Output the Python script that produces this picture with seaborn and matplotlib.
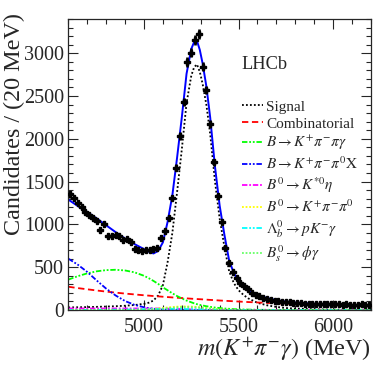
import numpy as np
import pandas as pd
import matplotlib
matplotlib.use('Agg')
import matplotlib.pyplot as plt
import seaborn as sns
from matplotlib.ticker import MultipleLocator

# data points (20 MeV bins)
bin_centres = list(range(4610, 6200, 20))
counts = [1350, 1310, 1245, 1205, 1150, 1115, 1080, 1045, 940, 1010,
          870, 860, 880, 860, 815, 830, 790, 711, 696, 690,
          703, 705, 711, 723, 844, 922, 1078, 1309, 1660, 2031,
          2430, 2898, 3008, 3152, 3222, 2840, 2570, 2168, 1726, 1328,
          1030, 723, 547, 449, 370, 320, 281, 240, 200, 170,
          158, 140, 128, 118, 105, 102, 95, 98, 88, 82,
          78, 80, 74, 72, 75, 69, 72, 66, 70, 67,
          71, 65, 63, 67, 61, 64, 58, 65, 61, 64]

# fit curves
m_fit = [4600, 4650, 4700, 4750, 4800, 4850, 4900, 4950, 5000, 5025,
         5050, 5075, 5100, 5125, 5150, 5175, 5200, 5225, 5250, 5265,
         5280, 5295, 5310, 5330, 5350, 5375, 5400, 5425, 5450, 5475,
         5500, 5525, 5550, 5600, 5650, 5700, 5750, 5800, 5900, 6000,
         6100, 6200]
total = [1290, 1215, 1145, 1070, 990, 910, 835, 770, 712, 682,
         660, 690, 790, 1030, 1340, 1780, 2250, 2760, 3050, 3130,
         3145, 3040, 2880, 2610, 2250, 1680, 1220, 880, 580, 430,
         340, 280, 235, 175, 140, 115, 98, 87, 72, 62,
         56, 51]
signal = [30, 32, 34, 37, 40, 44, 50, 58, 72, 85,
          110, 170, 290, 560, 900, 1377, 1877, 2417, 2737, 2836,
          2870, 2783, 2641, 2395, 2056, 1509, 1068, 742, 454, 314,
          231, 178, 137, 84, 55, 36, 23, 17, 9, 5,
          3, 2]
combinatorial = [272, 256, 242, 228, 215, 203, 192, 182, 172, 168,
                 163, 159, 155, 151, 147, 143, 140, 136, 132, 130,
                 128, 126, 124, 121, 118, 115, 111, 108, 105, 102,
                 99, 96, 93, 88, 83, 78, 74, 70, 63, 57,
                 52, 48]
kpipigamma = [355, 395, 428, 452, 466, 470, 462, 440, 400, 372,
              340, 305, 265, 230, 195, 163, 135, 110, 90, 78,
              68, 60, 53, 44, 37, 29, 23, 18, 14, 10,
              8, 6, 5, 3, 2, 1, 1, 0, 0, 0,
              0, 0]
kpipi0x = [600, 530, 445, 345, 250, 170, 105, 60, 32, 22,
           15, 9, 6, 4, 2, 1, 0, 0, 0, 0,
           0, 0, 0, 0, 0, 0, 0, 0, 0, 0,
           0, 0, 0, 0, 0, 0, 0, 0, 0, 0,
           0, 0]
kstareta = [18, 18, 18, 18, 18, 18, 18, 18, 18, 18,
            18, 18, 17, 16, 15, 13, 11, 9, 7, 6,
            5, 4, 3, 2, 2, 1, 1, 0, 0, 0,
            0, 0, 0, 0, 0, 0, 0, 0, 0, 0,
            0, 0]
kpipi0 = [0, 0, 0, 0, 0, 1, 1, 2, 6, 9,
          13, 18, 24, 30, 35, 39, 41, 42, 40, 38,
          35, 32, 28, 23, 18, 13, 9, 6, 4, 2,
          1, 0, 0, 0, 0, 0, 0, 0, 0, 0,
          0, 0]
lambdab = [0, 1, 1, 2, 3, 4, 5, 7, 9, 10,
           11, 12, 12, 13, 13, 13, 12, 11, 10, 9,
           8, 7, 6, 5, 4, 3, 2, 2, 1, 1,
           1, 0, 0, 0, 0, 0, 0, 0, 0, 0,
           0, 0]
phigamma = [0, 0, 0, 0, 0, 0, 0, 1, 3, 5,
            8, 12, 17, 22, 27, 31, 34, 35, 34, 33,
            31, 28, 25, 20, 15, 10, 6, 4, 2, 1,
            0, 0, 0, 0, 0, 0, 0, 0, 0, 0,
            0, 0]

components = [
    ('Signal', signal, 'black', (0, (1, 1.2))),
    ('Combinatorial', combinatorial, 'red', (0, (3.5, 2))),
    (r'$B \rightarrow K^{+}\pi^{-}\pi\gamma$', kpipigamma, '#00ff00', (0, (3, 1, 1, 1, 1, 1))),
    (r'$B \rightarrow K^{+}\pi^{-}\pi^{0}\mathrm{X}$', kpipi0x, '#0000ff', (0, (3, 1, 1, 1, 1, 1))),
    (r'$B^{0} \rightarrow K^{*0}\eta$', kstareta, '#ff00ff', (0, (3, 1, 1, 1))),
    (r'$B^{0} \rightarrow K^{+}\pi^{-}\pi^{0}$', kpipi0, '#ffff00', (0, (1, 1))),
    (r'$\Lambda_{b}^{0} \rightarrow pK^{-}\gamma$', lambdab, '#00ffff', (0, (3, 1, 1, 1, 1, 1))),
    (r'$B_{s}^{0} \rightarrow \phi\gamma$', phigamma, '#66ff66', (0, (1, 1))),
]

df_data = pd.DataFrame({'m': bin_centres, 'n': counts})

sns.set_style('ticks')
plt.rcParams['font.family'] = ['Liberation Serif', 'DejaVu Serif']
plt.rcParams['mathtext.fontset'] = 'stix'

fig = plt.figure(figsize=(3.74, 3.68), dpi=100)
ax = fig.add_axes([0.1826, 0.1576, 0.8094, 0.7908])

for label, values, colour, dash in components:
    sns.lineplot(x=m_fit, y=values, ax=ax, color=colour, linestyle=dash,
                 linewidth=1.3, label=label)

sns.lineplot(x=m_fit, y=total, ax=ax, color='#0000ff', linewidth=1.4)

ax.errorbar(df_data['m'], df_data['n'], yerr=np.sqrt(df_data['n']), xerr=12,
            fmt='P', color='black', markersize=4, elinewidth=1.9, capsize=0, zorder=5)

ax.set_xlim(4600, 6200)
ax.set_ylim(0, 3400)
ax.xaxis.set_major_locator(MultipleLocator(500))
ax.xaxis.set_minor_locator(MultipleLocator(100))
ax.yaxis.set_major_locator(MultipleLocator(500))
ax.yaxis.set_minor_locator(MultipleLocator(100))
ax.tick_params(which='both', direction='in', top=True, right=True, labelsize=14.5, width=0.8)
ax.tick_params(axis='x', pad=6)
ax.tick_params(axis='y', pad=3)
ax.tick_params(which='major', length=7)
ax.tick_params(which='minor', length=3.5)
for s in ax.spines.values():
    s.set_linewidth(0.9)

ax.set_ylabel('Candidates / (20 MeV)', fontsize=17.4, loc='top')
ax.yaxis.set_label_coords(-0.143, 1.02)
ax.set_xlabel(r'$m(K^{+}\pi^{-}\gamma)$ (MeV)', fontsize=17.4, loc='right')
ax.xaxis.set_label_coords(1.0, -0.088)

ax.text(0.571, 0.842, 'LHCb', transform=ax.transAxes, fontsize=13.2, va='center', ha='left')

ax.legend(loc='upper left', bbox_to_anchor=(242 / 374, 1 - 100 / 368), bbox_transform=fig.transFigure,
          frameon=False, fontsize=11, handlelength=1.35, handletextpad=0.25, labelspacing=0.22,
          borderpad=0, borderaxespad=0)

fig.savefig('out.png', dpi=100)
